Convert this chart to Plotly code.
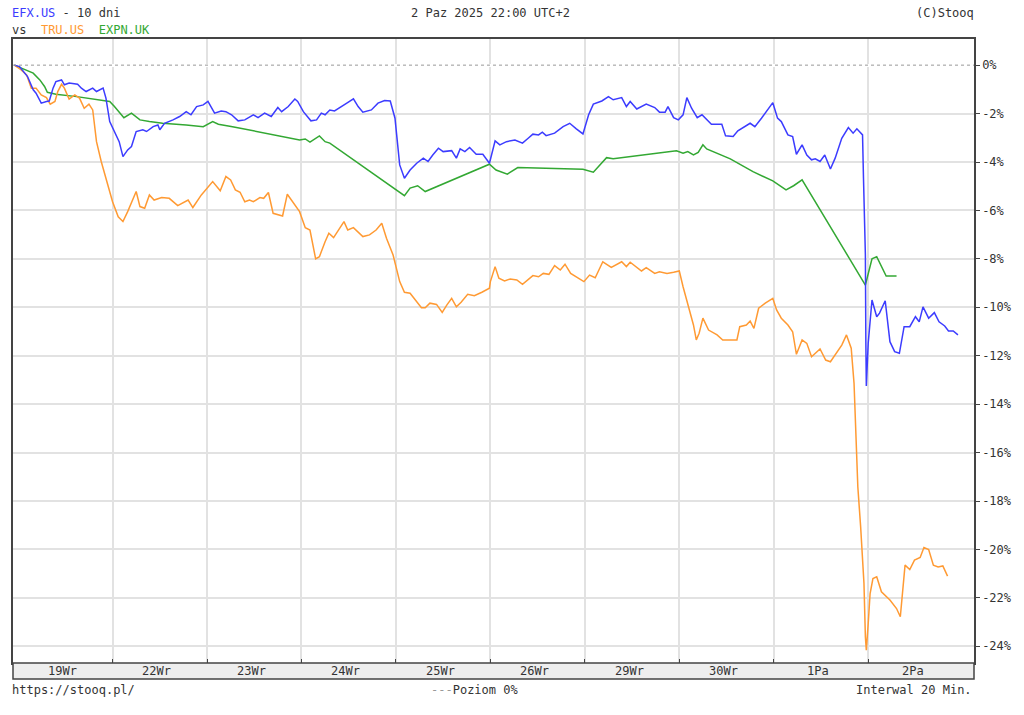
import plotly.graph_objects as go

# time in trading-day units (day k starts at k), values in % change
efx_x = [-0.04, 0.015, 0.10, 0.16, 0.19, 0.245, 0.30, 0.33, 0.37, 0.40, 0.46, 0.49, 0.54, 0.63, 0.67, 0.72, 0.79, 0.83, 0.90, 0.93,
         0.97, 1.04, 1.07, 1.11, 1.16, 1.20, 1.25, 1.32, 1.36, 1.43, 1.48, 1.50, 1.55, 1.64, 1.71, 1.78, 1.83, 1.89, 1.96, 2.01,
         2.08, 2.15, 2.20, 2.26, 2.33, 2.40, 2.49, 2.54, 2.61, 2.68, 2.75, 2.79, 2.86, 2.93, 2.96, 3.02, 3.10, 3.16, 3.21, 3.25,
         3.30, 3.35, 3.40, 3.48, 3.55, 3.60, 3.65, 3.74, 3.81, 3.88, 3.94, 3.99, 4.04, 4.09, 4.15, 4.22, 4.29, 4.34, 4.39, 4.45,
         4.50, 4.59, 4.64, 4.68, 4.73, 4.78, 4.85, 4.92, 4.99, 5.05, 5.10, 5.17, 5.26, 5.34, 5.40, 5.45, 5.51, 5.55, 5.59, 5.68,
         5.77, 5.84, 5.91, 5.98, 6.04, 6.09, 6.18, 6.25, 6.30, 6.39, 6.44, 6.48, 6.55, 6.65, 6.74, 6.79, 6.85, 6.88, 6.94, 6.99,
         7.04, 7.08, 7.13, 7.19, 7.24, 7.34, 7.45, 7.49, 7.57, 7.62, 7.75, 7.80, 7.87, 7.99, 8.04, 8.08, 8.15, 8.20, 8.24, 8.30,
         8.35, 8.40, 8.44, 8.49, 8.54, 8.60, 8.65, 8.72, 8.79, 8.84, 8.88, 8.94, 8.95, 8.97, 8.975, 8.98, 9.00, 9.03, 9.04, 9.09,
         9.12, 9.18, 9.23, 9.28, 9.33, 9.38, 9.44, 9.50, 9.54, 9.58, 9.64, 9.70, 9.75, 9.81, 9.85, 9.90, 9.95]
efx_y = [0, -0.06, -0.47, -1.02, -1.16, -1.57, -1.50, -1.48, -0.95, -0.68, -0.61, -0.81, -0.74, -0.79, -0.95, -1.09, -0.95, -1.09, -0.95, -1.36,
         -2.33, -2.88, -3.16, -3.78, -3.50, -3.36, -2.74, -2.67, -2.74, -2.54, -2.47, -2.67, -2.40, -2.26, -2.12, -1.92, -2.05, -1.71, -1.64, -1.50,
         -1.98, -1.89, -1.92, -2.05, -2.30, -2.26, -2.05, -2.17, -1.98, -2.12, -1.75, -1.92, -1.71, -1.40, -1.50, -1.92, -2.30, -2.26, -1.98, -2.05,
         -1.85, -1.89, -1.78, -1.57, -1.39, -1.71, -1.94, -1.85, -1.57, -1.46, -1.48, -2.19, -4.12, -4.67, -4.33, -4.05, -3.84, -3.98, -3.71, -3.43,
         -3.57, -3.53, -3.84, -3.46, -3.57, -3.40, -3.68, -3.68, -4.05, -3.13, -3.29, -3.16, -3.09, -3.22, -3.02, -2.85, -2.88, -2.77, -2.91, -2.81,
         -2.54, -2.40, -2.63, -2.84, -2.05, -1.61, -1.48, -1.30, -1.43, -1.34, -1.71, -1.50, -1.81, -1.61, -1.75, -1.94, -1.94, -1.71, -2.17, -2.26,
         -2.05, -1.34, -1.78, -2.17, -2.05, -2.44, -2.44, -2.92, -2.95, -2.71, -2.40, -2.54, -2.19, -1.55, -2.19, -2.33, -2.88, -2.95, -3.68, -3.29,
         -3.71, -3.91, -3.87, -3.98, -3.71, -4.29, -3.84, -3.02, -2.58, -2.81, -2.63, -2.88, -4.67, -7.84, -11.42, -13.25, -11.48, -9.82, -9.70, -10.39,
         -10.24, -9.73, -11.42, -11.83, -11.90, -10.80, -10.80, -10.39, -10.60, -9.98, -10.45, -10.22, -10.60, -10.77, -10.98, -10.98, -11.14]

tru_x = [-0.04, 0.03, 0.09, 0.14, 0.19, 0.245, 0.30, 0.34, 0.39, 0.42, 0.46, 0.49, 0.54, 0.60, 0.65, 0.70, 0.75, 0.79, 0.83, 0.88,
         0.95, 1.00, 1.06, 1.11, 1.16, 1.25, 1.29, 1.34, 1.39, 1.44, 1.52, 1.60, 1.69, 1.80, 1.85, 1.94, 2.06, 2.14, 2.20, 2.25,
         2.30, 2.35, 2.40, 2.45, 2.49, 2.56, 2.60, 2.65, 2.70, 2.75, 2.80, 2.85, 2.91, 2.98, 3.04, 3.09, 3.15, 3.19, 3.25, 3.29,
         3.34, 3.40, 3.45, 3.49, 3.55, 3.65, 3.72, 3.79, 3.85, 3.90, 3.97, 4.04, 4.09, 4.15, 4.22, 4.27, 4.31, 4.36, 4.43, 4.49,
         4.54, 4.59, 4.64, 4.69, 4.76, 4.83, 4.91, 4.99, 5.00, 5.05, 5.09, 5.15, 5.21, 5.28, 5.34, 5.38, 5.45, 5.51, 5.56, 5.62,
         5.68, 5.74, 5.79, 5.85, 5.93, 5.99, 6.05, 6.11, 6.19, 6.28, 6.39, 6.44, 6.48, 6.55, 6.60, 6.65, 6.74, 6.79, 6.87, 6.94,
         7.00, 7.04, 7.09, 7.15, 7.18, 7.21, 7.25, 7.31, 7.40, 7.46, 7.61, 7.64, 7.71, 7.75, 7.79, 7.84, 7.91, 7.99, 8.03, 8.08,
         8.15, 8.20, 8.24, 8.30, 8.35, 8.40, 8.49, 8.55, 8.60, 8.65, 8.72, 8.77, 8.82, 8.85, 8.87, 8.89, 8.92, 8.94, 8.955, 8.97,
         8.98, 9.00, 9.02, 9.05, 9.09, 9.14, 9.23, 9.30, 9.34, 9.39, 9.44, 9.49, 9.55, 9.59, 9.64, 9.69, 9.74, 9.79, 9.84]
tru_y = [0, -0.19, -0.40, -0.95, -0.95, -1.23, -1.34, -1.61, -1.50, -1.09, -0.79, -0.95, -1.40, -1.23, -1.36, -1.78, -1.61, -1.85, -3.16, -3.98,
         -4.95, -5.64, -6.26, -6.46, -6.05, -5.22, -5.84, -5.91, -5.36, -5.57, -5.47, -5.50, -5.80, -5.57, -5.88, -5.36, -4.81, -5.19, -4.60, -4.74,
         -5.15, -5.25, -5.64, -5.57, -5.64, -5.47, -5.50, -5.26, -6.12, -6.19, -6.23, -5.33, -5.64, -6.05, -6.71, -6.81, -8.00, -7.91, -7.29, -6.94,
         -7.12, -6.74, -6.46, -6.81, -6.71, -7.08, -7.01, -6.81, -6.53, -7.15, -7.84, -8.94, -9.38, -9.42, -9.79, -10.02, -10.02, -9.83, -9.88, -10.21,
         -9.90, -9.63, -9.98, -9.79, -9.46, -9.52, -9.38, -9.21, -8.94, -8.32, -8.80, -8.91, -8.83, -8.87, -9.05, -8.91, -8.69, -8.74, -8.60, -8.64,
         -8.28, -8.46, -8.22, -8.60, -8.78, -8.94, -8.67, -8.78, -8.12, -8.35, -8.12, -8.32, -8.14, -8.36, -8.50, -8.36, -8.60, -8.53, -8.60, -8.55,
         -8.50, -9.15, -9.83, -10.73, -11.35, -11.07, -10.45, -10.94, -11.14, -11.35, -11.35, -10.80, -10.73, -10.57, -10.87, -10.04, -9.83, -9.63, -10.11, -10.45,
         -10.73, -11.01, -11.94, -11.35, -11.49, -12.04, -11.72, -12.18, -12.25, -11.97, -11.56, -11.14, -11.69, -13.14, -15.62, -17.41, -19.07, -20.17, -21.40, -23.61,
         -24.16, -23.06, -21.82, -21.20, -21.13, -21.75, -22.09, -22.44, -22.78, -20.65, -20.83, -20.44, -20.33, -19.92, -20.00, -20.65, -20.72, -20.68, -21.10]

expn_x = [-0.04, 0.05, 0.16, 0.23, 0.28, 0.31, 0.40, 0.62, 0.83, 0.97, 1.02, 1.07, 1.12, 1.20, 1.29, 1.39, 1.53, 1.78, 1.96, 2.06,
          2.12, 2.27, 2.63, 2.98, 3.04, 3.09, 3.19, 3.25, 3.30, 4.09, 4.15, 4.23, 4.31, 4.99, 5.06, 5.18, 5.29, 5.63, 5.98, 6.09,
          6.16, 6.23, 6.30, 6.48, 6.65, 6.87, 6.97, 7.04, 7.09, 7.15, 7.20, 7.25, 7.29, 7.54, 7.78, 7.99, 8.13, 8.21, 8.30, 8.97,
          9.04, 9.09, 9.14, 9.19, 9.30]
expn_y = [0, -0.15, -0.33, -0.61, -0.88, -1.12, -1.20, -1.30, -1.43, -1.50, -1.71, -1.92, -2.17, -1.98, -2.26, -2.33, -2.40, -2.47, -2.54, -2.33,
          -2.44, -2.54, -2.81, -3.09, -3.05, -3.18, -2.92, -3.16, -3.22, -5.39, -5.08, -4.98, -5.22, -4.09, -4.33, -4.50, -4.23, -4.26, -4.30, -4.42,
          -4.12, -3.82, -3.87, -3.78, -3.68, -3.60, -3.54, -3.64, -3.57, -3.71, -3.60, -3.29, -3.46, -3.87, -4.40, -4.78, -5.15, -4.98, -4.74, -9.08,
          -8.00, -7.91, -8.32, -8.71, -8.71]

day_labels = ["19Wr", "22Wr", "23Wr", "24Wr", "25Wr", "26Wr", "29Wr", "30Wr", "1Pa", "2Pa"]
y_ticks = [0, -2, -4, -6, -8, -10, -12, -14, -16, -18, -20, -22, -24]
y_ticktext = ["0%", "-2%", "-4%", "-6%", "-8%", "-10%", "-12%", "-14%", "-16%", "-18%", "-20%", "-22%", "-24%"]

BLUE = "#3c3cff"
ORANGE = "#ff9a33"
GREEN = "#33a833"
DARK = "#333333"
FONT = "DejaVu Sans Mono"

W, H = 1024, 715
PLOT_L, PLOT_R, PLOT_T, PLOT_B = 13, 974, 39, 663
L, T, R, B = PLOT_L, PLOT_T, W - PLOT_R, H - PLOT_B
PW, PH = W - L - R, H - T - B


def px(p):
    return (p - PLOT_L) / PW


def py(q):
    return (PLOT_B - q) / PH


fig = go.Figure()
for xs, ys, col in [(expn_x, expn_y, GREEN), (tru_x, tru_y, ORANGE), (efx_x, efx_y, BLUE)]:
    fig.add_trace(go.Scatter(x=xs, y=ys, mode="lines", line=dict(color=col, width=1.5),
                             hoverinfo="skip", showlegend=False))

# zero level, dashed
fig.add_hline(y=0, line=dict(color="#999999", width=1, dash="3px,3px"))

# date band below the plot
fig.add_shape(type="rect", xref="paper", yref="paper", x0=0, x1=1, y0=-16 / PH, y1=0,
              fillcolor="#eeeeee", line=dict(color="#444444", width=1.5))
for i, lab in enumerate(day_labels):
    fig.add_annotation(x=i + 0.47, xref="x", y=-8 / PH, yref="paper", text=lab, showarrow=False,
                       font=dict(family=FONT, size=12, color=DARK), xanchor="center", yanchor="middle")

txt = dict(family=FONT, size=12, color=DARK)


def note(x, y, text, anchor):
    fig.add_annotation(x=px(x), y=py(y), xref="paper", yref="paper", xanchor=anchor, yanchor="middle",
                       showarrow=False, font=txt, text=text, borderpad=0)


note(11, 13, f"<span style='color:{BLUE}'>EFX.US</span> - 10 dni", "left")
note(11, 30, f"vs\u00a0\u00a0<span style='color:{ORANGE}'>TRU.US</span>\u00a0\u00a0"
             f"<span style='color:{GREEN}'>EXPN.UK</span>", "left")
note(490, 13, "2 Paz 2025 22:00 UTC+2", "center")
note(975, 13, "(C)Stooq", "right")
note(11, 690, "https://stooq.pl/", "left")
note(430, 690, "<span style='color:#999999'>---</span>Poziom 0%", "left")
note(973, 690, "Interwal 20 Min.", "right")

fig.update_layout(
    width=W, height=H,
    margin=dict(l=L, r=R, t=T, b=B),
    plot_bgcolor="white", paper_bgcolor="white",
    showlegend=False,
    xaxis=dict(range=[-0.054, 10.12], tickvals=list(range(1, 10)), showticklabels=False,
               ticks="inside", ticklen=4, tickcolor="#444444",
               showgrid=True, gridcolor="#e2e2e2", gridwidth=2, zeroline=False,
               showline=True, linecolor="#444444", linewidth=1.5, mirror=True),
    yaxis=dict(range=[-24.69, 1.08], side="right", tickvals=y_ticks, ticktext=y_ticktext,
               ticks="outside", ticklen=4, tickcolor="#444444",
               tickfont=dict(family=FONT, size=12, color=DARK),
               showgrid=True, gridcolor="#e2e2e2", gridwidth=2,
               zeroline=True, zerolinecolor="white", zerolinewidth=3,
               showline=True, linecolor="#444444", linewidth=1.5, mirror=True),
)

# drop the default page margin so the figure sits at the window's corner
fig.write_html("out.html", config={"displayModeBar": False},
               post_script="document.body.style.margin='0';")
